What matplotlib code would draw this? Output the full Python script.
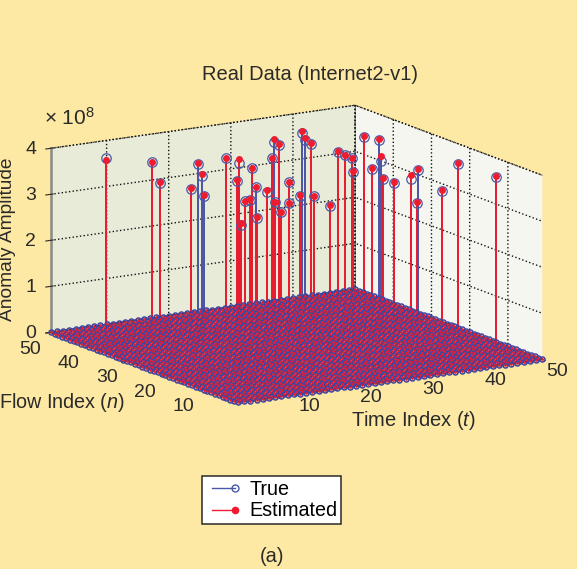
import numpy as np
import matplotlib
matplotlib.use('Agg')
import matplotlib.pyplot as plt
from matplotlib.legend_handler import HandlerLine2D

plt.rcParams['font.family'] = ['Liberation Sans', 'DejaVu Sans']
plt.rcParams['mathtext.fontset'] = 'custom'
plt.rcParams['mathtext.rm'] = 'Liberation Sans'
plt.rcParams['mathtext.it'] = 'Liberation Sans:italic'
plt.rcParams['mathtext.default'] = 'regular'

# anomaly positions
time_idx = [6.0, 10.7, 13.3, 15.3, 16.1, 14.9, 13.5, 22.5, 24.0, 17.4, 27.2, 21.2, 15.1, 17.3, 8.2, 13.3,
            24.1, 31.1, 32.9, 31.9, 17.0, 14.5, 20.2, 26.7, 19.9, 39.4, 38.2, 37.3, 23.1, 25.0, 42.0, 39.6,
            42.0, 34.1, 46.6, 36.3, 46.7, 43.7, 37.6, 38.8, 44.0, 43.2, 33.5, 44.4, 46.3, 47.4]
flow_idx = [43.7, 39.3, 41.4, 36.5, 36.0, 33.0, 30.3, 39.2, 38.2, 27.9, 39.9, 29.1, 22.1, 24.3, 12.0, 16.0,
            30.9, 41.1, 43.5, 40.5, 17.3, 11.6, 18.8, 29.3, 15.4, 46.7, 43.8, 40.8, 17.1, 15.8, 41.5, 35.7,
            37.8, 24.6, 42.2, 23.2, 38.5, 33.0, 22.5, 21.7, 25.6, 22.5, 6.9, 18.2, 17.0, 9.0]
est_amp = [3.85, 3.86, 3.30, 3.28, 3.83, 3.70, 3.35, 3.72, 3.69, 3.68, 3.39, 3.43, 3.46, 3.38, 3.41, 3.32,
           3.24, 3.50, 3.80, 3.80, 3.54, 3.55, 3.41, 3.43, 3.70, 3.75, 3.71, 3.71, 3.57, 3.37, 3.42, 3.57,
           3.39, 3.67, 3.63, 3.72, 3.68, 3.55, 3.51, 3.43, 3.36, 3.59, 3.55, 3.26, 3.85, 3.78]
true_amp = [3.88, 3.85, 3.28, 3.26, 3.80, 3.67, 3.33, 3.71, 3.60, 3.66, 3.38, 3.42, 3.45, 3.37, 3.37, 3.30,
            3.21, 3.50, 3.74, 3.78, 3.54, 3.54, 3.41, 3.41, 3.68, 3.71, 3.66, 3.69, 3.57, 3.36, 3.39, 3.56,
            3.38, 3.64, 3.61, 3.70, 3.66, 3.44, 3.49, 3.41, 3.28, 3.58, 3.52, 3.22, 3.82, 3.76]
# stems where the blue line shows over the red one
blue_on_top = [4, 5, 6, 11, 18, 25, 26, 36, 37, 41]

grid_idx = np.arange(1, 51)
grid_t, grid_n = np.meshgrid(grid_idx, grid_idx)
grid_zero = np.zeros(grid_t.size)

t_ticks = [10, 20, 30, 40, 50]
n_ticks = [10, 20, 30, 40, 50]
z_ticks = [0, 1, 2, 3, 4]

bg = '#FDE8A4'
blue = '#4A59A8'
red = '#EE1C2E'
ink = '#2A2A2A'

fig = plt.figure(figsize=(5.77, 5.69), dpi=100, facecolor=bg)
ax = fig.add_axes([0.0477, 0.0812, 0.9078, 0.9206], projection='3d', computed_zorder=False)
ax.patch.set_alpha(0)
ax.set_proj_type('ortho')
ax.view_init(elev=13.3, azim=-121.6)
ax.set_box_aspect((1, 1, 190 / 359))
ax.set_xlim(1, 50)
ax.set_ylim(1, 50)
ax.set_zlim(0, 4)

# stems go under the carpet of zero points
for i in range(len(time_idx)):
    t, n = time_idx[i], flow_idx[i]
    blue_z, red_z = (1.2, 1.1) if i in blue_on_top else (1.1, 1.2)
    ax.plot([t, t], [n, n], [0, true_amp[i]], color=blue, lw=1.4, zorder=blue_z)
    ax.plot([t, t], [n, n], [0, est_amp[i]], color=red, lw=1.4, zorder=red_z)

ax.plot(grid_t.ravel(), grid_n.ravel(), grid_zero, ls='', marker='o', ms=3.6, mfc='none', mec='#41459E', mew=1.1, zorder=2)
ax.plot(grid_t.ravel(), grid_n.ravel(), grid_zero, ls='', marker='o', ms=1.9, color=red, mew=0, zorder=2.1)
ax.plot(time_idx, flow_idx, true_amp, ls='', marker='o', ms=6.8, mfc='none', mec=blue, mew=0.9, zorder=3)
ax.plot(time_idx, flow_idx, est_amp, ls='', marker='o', ms=5, color=red, mew=0, zorder=3.1)

ax.set_xticks(t_ticks)
ax.set_yticks(n_ticks)
ax.set_zticks(z_ticks)
ax.tick_params(labelsize=14, colors=ink)
ax.tick_params(axis='x', pad=8)
ax.tick_params(axis='y', pad=5)
ax.tick_params(axis='z', pad=0)
for lab in ax.get_xticklabels():
    lab.set_va('bottom')
for lab in ax.get_yticklabels() + ax.get_zticklabels():
    lab.set_va('center_baseline')

ax.xaxis.set_pane_color('#F6F6F1')
ax.yaxis.set_pane_color('#E9EBD9')
ax.zaxis.set_pane_color('#E9EBD9')
for a in (ax.xaxis, ax.yaxis, ax.zaxis):
    a._axinfo['grid'].update(color='#111111', linewidth=1.0, linestyle=':')
    a.pane.set_edgecolor('#222222')
    a.pane.set_linestyle(':')
    a.pane.set_linewidth(0.9)
ax.zaxis.line.set_color('#8A8A80')
ax.zaxis.line.set_linewidth(1.8)


def px_text(x, y, s, **kw):
    fig.text(x / 577, 1 - y / 569, s, ha='center', va='center', color=ink, **kw)


px_text(310, 75, 'Real Data (Internet2-v1)', fontsize=14.5)
px_text(69, 118, r'$\times$ 10$^{8}$', fontsize=15)
px_text(8, 239, 'Anomaly Amplitude', fontsize=13.8, rotation=90)
px_text(62, 402, r'Flow Index ($\mathit{n}$)', fontsize=14.2)
px_text(413, 421, r'Time Index ($\mathit{t}$)', fontsize=14.5)
px_text(272, 557, '(a)', fontsize=14.5)


class EndMarker(HandlerLine2D):
    def create_artists(self, *args, **kwargs):
        arts = super().create_artists(*args, **kwargs)
        arts[0].set_markevery([1])
        return arts


h_true, = ax.plot([], [], [], color=blue, lw=1, marker='o', ms=5, mfc='none', mec=blue, label='True')
h_est, = ax.plot([], [], [], color=red, lw=1, marker='o', ms=4.5, mec=red, label='Estimated')
leg = fig.legend(handles=[h_true, h_est], loc='center', bbox_to_anchor=(271.5 / 577, 1 - 500 / 569),
                 numpoints=2, handler_map={h_true: EndMarker(), h_est: EndMarker()}, fontsize=14.2, fancybox=False,
                 framealpha=1, edgecolor=ink, labelspacing=0.15, handlelength=1.8, handletextpad=0.4,
                 borderpad=0.2, borderaxespad=0)
leg.get_frame().set_linewidth(1.1)

fig.savefig('out.png', dpi=100, facecolor=bg)
